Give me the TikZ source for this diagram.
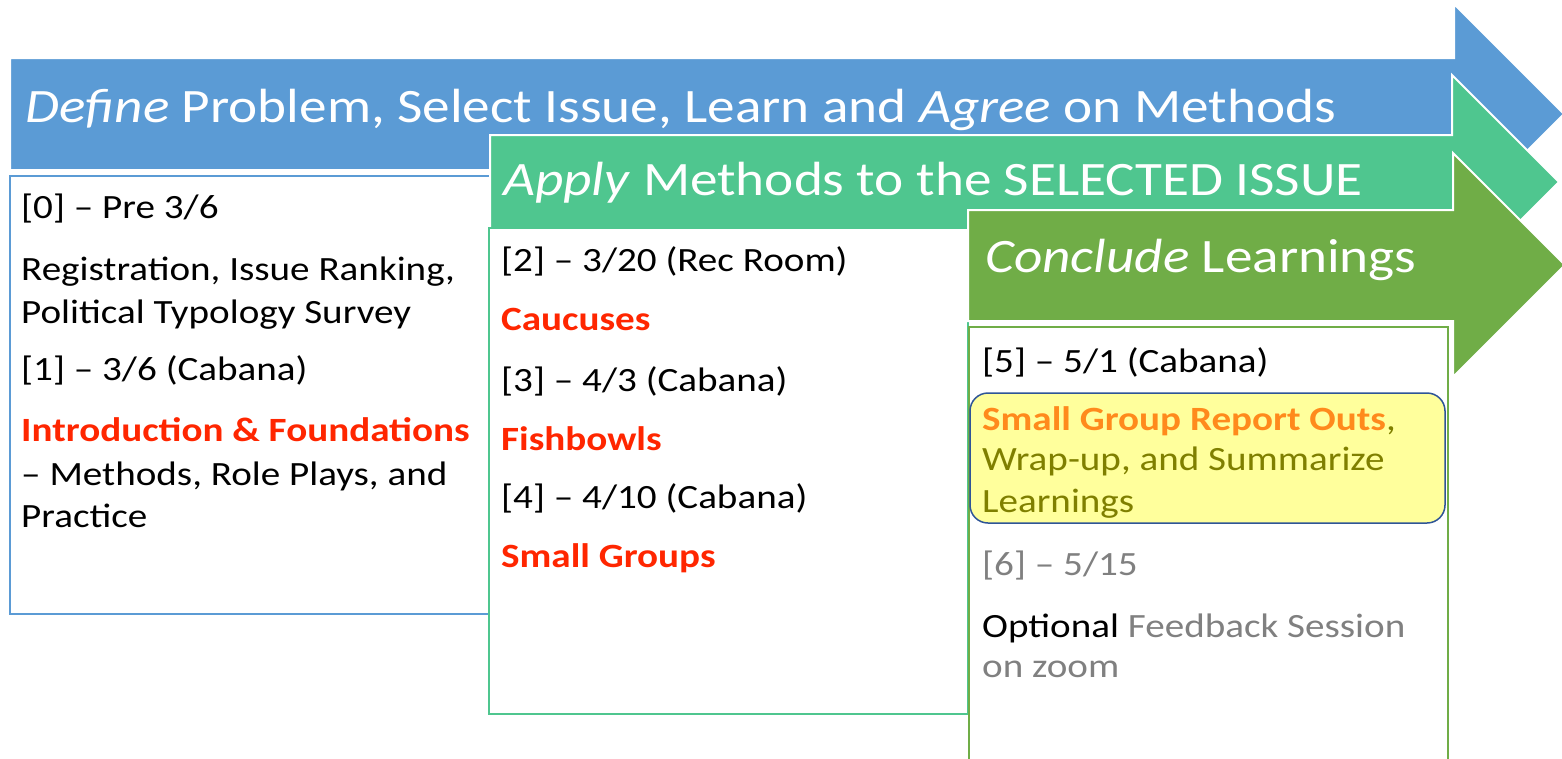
\documentclass[tikz,border=0pt]{standalone}
\usepackage{fontspec}
\setmainfont{Carlito}[FakeStretch=1.15]
\usepackage{tikz}
\definecolor{defblue}{HTML}{5B9BD5}
\definecolor{applygreen}{HTML}{4FC68F}
\definecolor{concgreen}{HTML}{70AD47}
\definecolor{hotred}{HTML}{FF2600}
\definecolor{hotorange}{HTML}{FF8A1C}
\definecolor{olive}{HTML}{7F7F00}
\definecolor{softgray}{HTML}{808080}
\definecolor{hlfill}{HTML}{FFFF9C}
\definecolor{hlline}{HTML}{2F5597}
\tikzset{
  phase/.style={draw=white, line width=2pt},
  pbox/.style={line width=2pt, fill=white},
  ttl/.style={anchor=base west, inner sep=0pt, text=white, font=\fontsize{48}{58}\selectfont},
  txt/.style={anchor=base west, inner sep=0pt, font=\fontsize{34}{42}\selectfont}
}

\begin{document}
\begin{tikzpicture}[x=1pt, y=-1pt]
			%%%%% START %%%%%
			\useasboundingbox (0,0) rectangle (1562,758);
			
			% define phase
			\draw[phase, fill=defblue] (10,58) -- (1454,58) -- (1454,4) -- (1564,114) -- (1454,224) -- (1454,170) -- (10,170) -- cycle;
			\draw[pbox, draw=defblue] (10,176) rectangle (495,614);
			
			% apply phase
			\draw[phase, fill=applygreen] (490,135) -- (1452,135) -- (1452,75) -- (1559,182) -- (1452,289) -- (1452,229) -- (490,229) -- cycle;
			\draw[pbox, draw=applygreen] (489,228) rectangle (968,714);
			
			% conclude phase
			\draw[phase, fill=concgreen] (968,210) -- (1453,210) -- (1453,153) -- (1565,265) -- (1453,377) -- (1453,321) -- (968,321) -- cycle;
			\draw[pbox, draw=concgreen] (969,327) rectangle (1448,775);
			\draw[line width=1.5pt, draw=hlline, fill=hlfill, rounded corners=18pt] (970,393) rectangle (1445,523);
			
			\node[ttl] (define) at (25,122) {\textit{Define} Problem, Select Issue, Learn and \textit{Agree} on Methods};
			\node[ttl] (apply) at (503,195) {\textit{Apply} Methods to the SELECTED ISSUE};
			\node[ttl] (conclude) at (985,272) {\textit{Conclude} Learnings};
			
			\node[txt] (s0) at (21,218) {[0] -- Pre 3/6};
			\node[txt] (reg) at (21,280) {Registration, Issue Ranking,};
			\node[txt] (pol) at (21,323) {Political Typology Survey};
			\node[txt] (s1) at (21,380) {[1] -- 3/6 (Cabana)};
			\node[txt, text=hotred, font=\fontsize{34}{42}\selectfont\bfseries] (intro) at (21,441) {Introduction \& Foundations};
			\node[txt] (meth) at (21,485) {-- Methods, Role Plays, and};
			\node[txt] (prac) at (21,527) {Practice};
			
			\node[txt] (s2) at (501,271) {[2] -- 3/20 (Rec Room)};
			\node[txt, text=hotred, font=\fontsize{34}{42}\selectfont\bfseries] (cauc) at (501,330) {Caucuses};
			\node[txt] (s3) at (501,391) {[3] -- 4/3 (Cabana)};
			\node[txt, text=hotred, font=\fontsize{34}{42}\selectfont\bfseries] (fish) at (501,450) {Fishbowls};
			\node[txt] (s4) at (501,508) {[4] -- 4/10 (Cabana)};
			\node[txt, text=hotred, font=\fontsize{34}{42}\selectfont\bfseries] (small) at (501,567) {Small Groups};
			
			\node[txt] (s5) at (982,372) {[5] -- 5/1 (Cabana)};
			\node[txt, text=olive] (report) at (982,430) {\textcolor{hotorange}{\bfseries Small Group Report Outs},};
			\node[txt, text=olive] (wrap) at (982,470) {Wrap-up, and Summarize};
			\node[txt, text=olive] (learn) at (982,512) {Learnings};
			\node[txt, text=softgray] (s6) at (982,575) {[6] -- 5/15};
			\node[txt, text=softgray] (opt) at (982,637) {\textcolor{black}{Optional} Feedback Session};
			\node[txt, text=softgray] (zoom) at (982,677) {on zoom};
			
			%%%%% END %%%%%
\end{tikzpicture}
\end{document}
